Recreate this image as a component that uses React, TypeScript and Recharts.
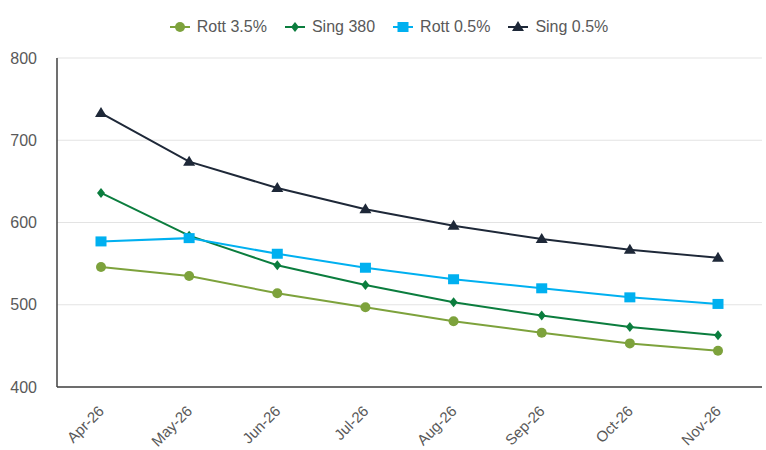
import React from 'react';
import { LineChart, Line, XAxis, YAxis, CartesianGrid, Legend } from 'recharts';

const months = ['Apr-26', 'May-26', 'Jun-26', 'Jul-26', 'Aug-26', 'Sep-26', 'Oct-26', 'Nov-26'];
const rott35 = [546, 535, 514, 497, 480, 466, 453, 444];
const sing380 = [636, 584, 548, 524, 503, 487, 473, 463];
const rott05 = [577, 581, 562, 545, 531, 520, 509, 501];
const sing05 = [733, 674, 642, 616, 596, 580, 567, 557];
const yTicks = [400, 500, 600, 700, 800];

const data = months.map((m, i) => ({
  month: m,
  rott35: rott35[i],
  sing380: sing380[i],
  rott05: rott05[i],
  sing05: sing05[i],
}));

const series = [
  { key: 'rott35', name: 'Rott 3.5%', color: '#7DA23C', shape: 'circle' },
  { key: 'sing380', name: 'Sing 380', color: '#0B7D3E', shape: 'diamond' },
  { key: 'rott05', name: 'Rott 0.5%', color: '#00B0F0', shape: 'square' },
  { key: 'sing05', name: 'Sing 0.5%', color: '#1E2838', shape: 'triangle' },
];

const FONT = '"Liberation Sans", Arial, sans-serif';

const Marker = ({ shape, color, cx, cy }: any) => {
  if (cx == null || cy == null) return null;
  if (shape === 'circle') return <circle cx={cx} cy={cy} r={5} fill={color} stroke="none" />;
  if (shape === 'diamond')
    return <polygon points={`${cx},${cy - 5} ${cx + 4},${cy} ${cx},${cy + 5} ${cx - 4},${cy}`} fill={color} />;
  if (shape === 'square') return <rect x={cx - 5.5} y={cy - 5} width={11} height={10} fill={color} />;
  return <polygon points={`${cx},${cy - 6} ${cx + 6},${cy + 4} ${cx - 6},${cy + 4}`} fill={color} />;
};

const LegendContent = () => (
  <div style={{ display: 'flex', justifyContent: 'center', alignItems: 'center', height: 30, fontFamily: FONT, fontSize: 16, color: '#595959', paddingLeft: 32 }}>
    {series.map((s) => (
      <div key={s.key} style={{ display: 'flex', alignItems: 'center', marginRight: 17 }}>
        <svg width={22} height={14} style={{ marginRight: 6 }}>
          <line x1={1} y1={7} x2={21} y2={7} stroke={s.color} strokeWidth={2} />
          <Marker shape={s.shape} color={s.color} cx={11} cy={7} />
        </svg>
        <span>{s.name}</span>
      </div>
    ))}
  </div>
);

const XTick = ({ x, y, payload }: any) => (
  <g transform={`translate(${x + 4}, ${y + 17}) rotate(-45)`}>
    <text x={0} y={0} textAnchor="end" fill="#595959" fontSize={15} fontFamily={FONT}>
      {payload.value}
    </text>
  </g>
);

export default function App() {
  return (
    <div style={{ position: 'absolute', left: 0, top: 0, background: '#fff' }}>
      <LineChart width={766} height={450} data={data} margin={{ top: 28, right: 4, bottom: 0, left: 0 }}>
        <CartesianGrid horizontal vertical={false} stroke="#e3e3e3" />
        <XAxis
          dataKey="month"
          height={63}
          padding={{ left: 44, right: 44 }}
          tickLine={false}
          axisLine={{ stroke: '#404040', strokeWidth: 1.5 }}
          tick={<XTick />}
          interval={0}
        />
        <YAxis
          domain={[400, 800]}
          ticks={yTicks}
          width={57}
          tickLine={false}
          axisLine={{ stroke: '#404040', strokeWidth: 1.5 }}
          tick={{ fill: '#595959', fontSize: 16, fontFamily: FONT }}
          tickMargin={14}
        />
        <Legend verticalAlign="top" align="center" wrapperStyle={{ top: 12 }} content={<LegendContent />} />
        {series.map((s) => (
          <Line
            key={s.key}
            dataKey={s.key}
            name={s.name}
            stroke={s.color}
            strokeWidth={2}
            isAnimationActive={false}
            dot={(p: any) => <Marker key={`${s.key}-${p.index}`} shape={s.shape} color={s.color} cx={p.cx} cy={p.cy} />}
            activeDot={false}
          />
        ))}
      </LineChart>
    </div>
  );
}
